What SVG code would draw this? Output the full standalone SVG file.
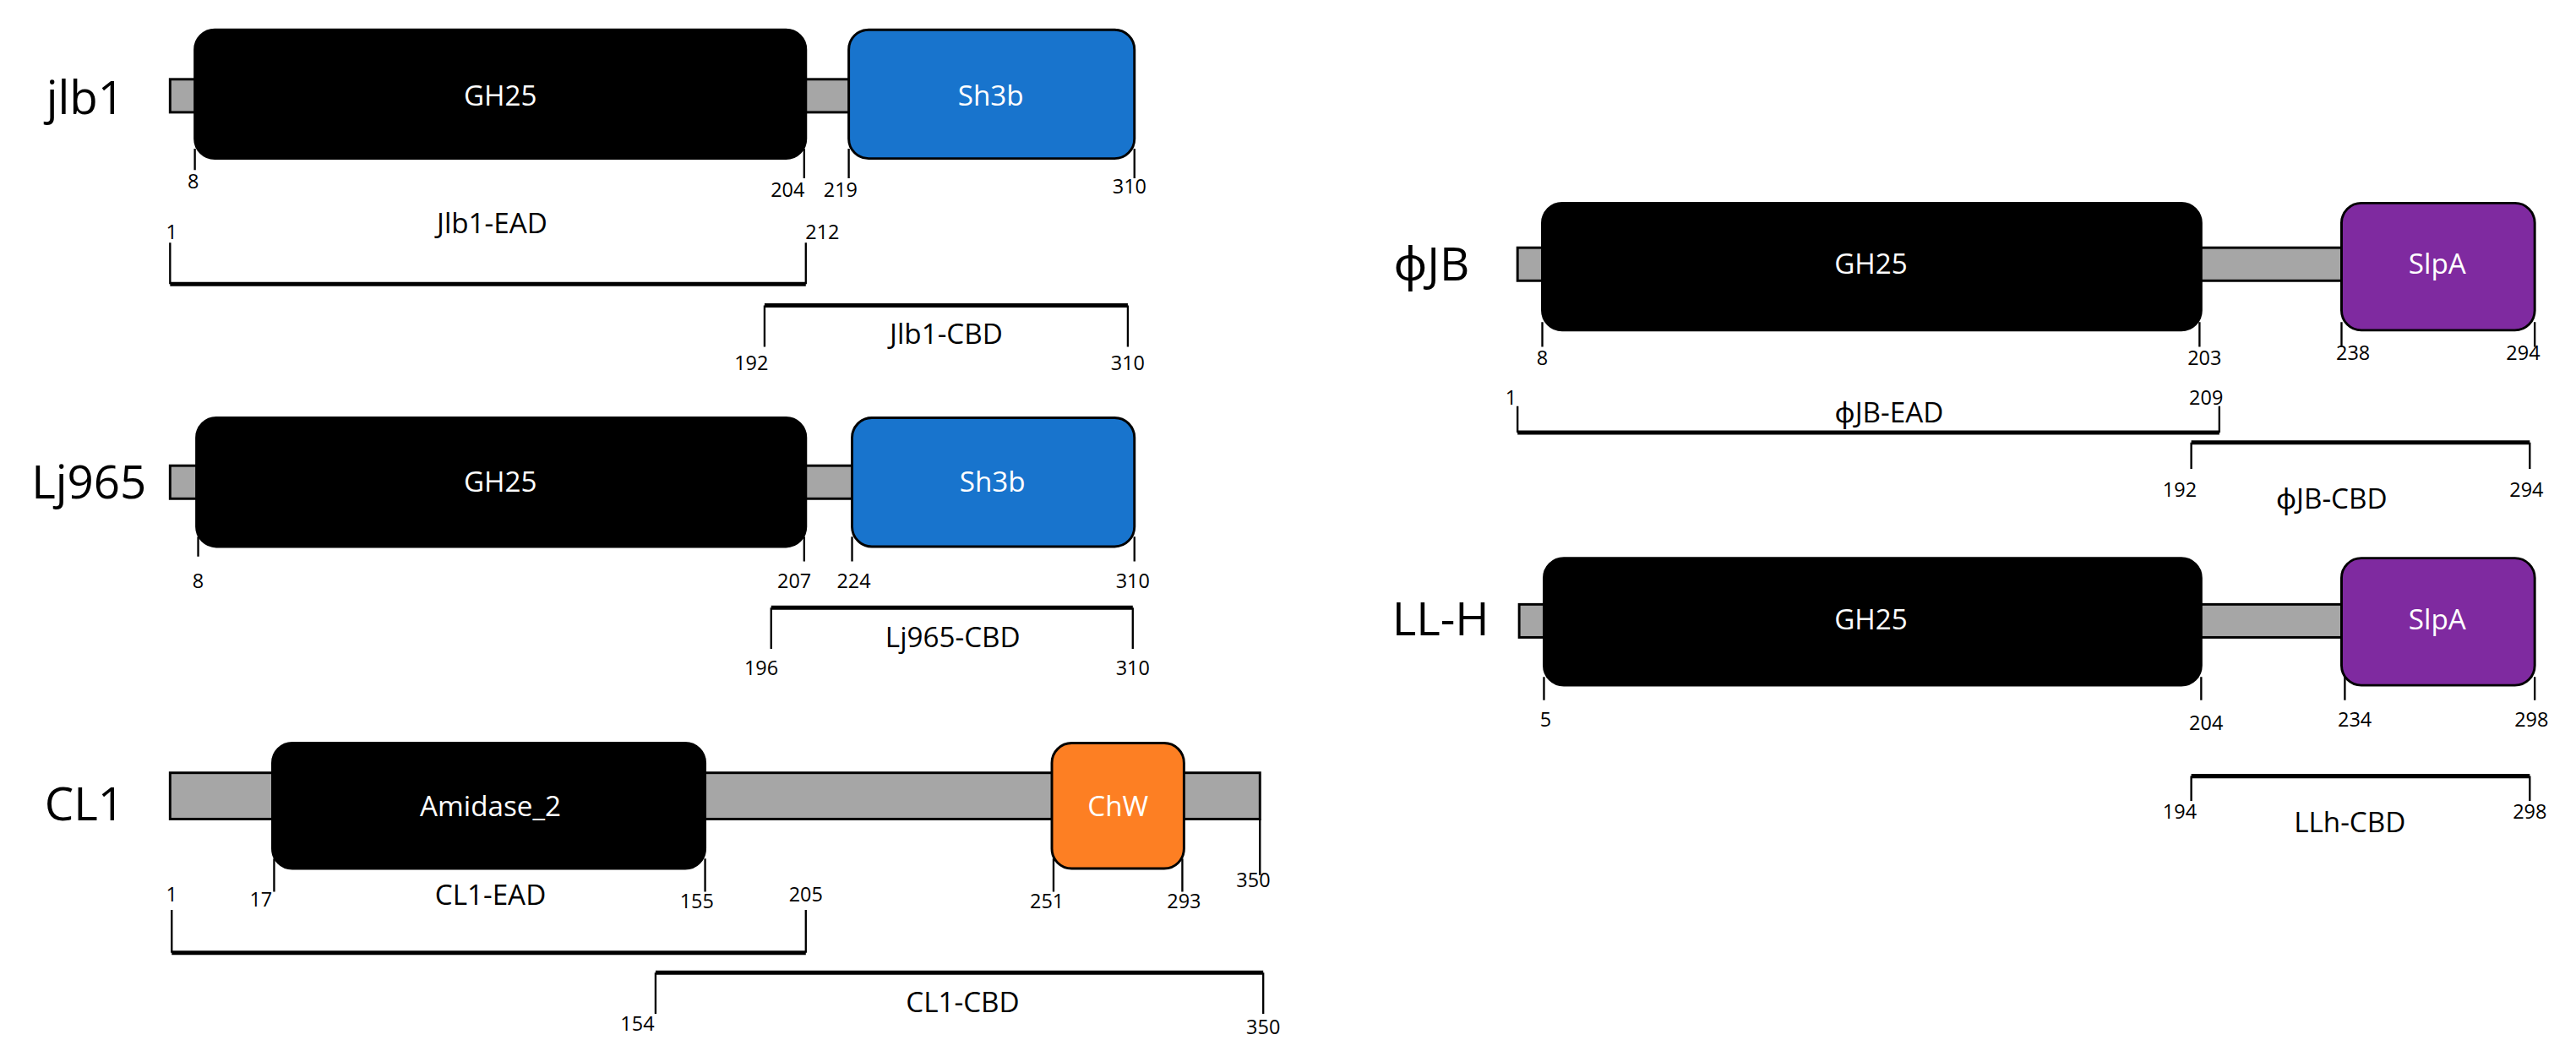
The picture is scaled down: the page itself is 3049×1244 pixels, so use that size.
<svg xmlns="http://www.w3.org/2000/svg" width="3049" height="1244" viewBox="0 0 3049 1244">
<style>
text{font-family:"Open Sans","Noto Sans",sans-serif;fill:#000}
.sp{font-size:28px}
.dom{font-size:17px;fill:#fff;text-anchor:middle}
.n{font-size:12px;text-anchor:middle}
.bn{font-size:17px;text-anchor:middle}
.bar{fill:#a6a6a6;stroke:#000;stroke-width:1.5}
.blk{fill:#000;stroke:#000;stroke-width:1.5}
.tk{stroke:#000;stroke-width:1.2;fill:none}
.br{stroke:#000;stroke-width:1.2;fill:none}
.bh{stroke:#000;stroke-width:2.6}
</style>
<rect width="3049" height="1244" fill="#fff"/>
<g transform="scale(1.9545)">
<g id="jlb1">
<text class="sp" x="28" y="69">jlb1</text>
<rect class="bar" x="103" y="48" width="415" height="20"/>
<rect class="blk" x="118" y="18" width="370" height="78" rx="12"/>
<text class="dom" x="303" y="64">GH25</text>
<rect x="514" y="18" width="173" height="78" rx="12" fill="#1874cd" stroke="#000" stroke-width="1.5"/>
<text class="dom" x="600" y="64">Sh3b</text>
<path class="tk" d="M118 90V103M487 90V108M514 90V108M687 90V108"/>
<text class="n" x="117" y="114">8</text><text class="n" x="477" y="119">204</text><text class="n" x="509" y="119">219</text><text class="n" x="684" y="117">310</text>
</g>
<g id="jlb1-ead">
<text class="bn" x="298" y="141">Jlb1-EAD</text>
<path class="br" d="M103 147V172M488 147V172"/><path class="bh" d="M103 172H488"/>
<text class="n" x="104" y="145">1</text><text class="n" x="498" y="145">212</text>
</g>
<g id="jlb1-cbd">
<path class="bh" d="M463 185H683"/><path class="br" d="M463 185V210M683 185V210"/>
<text class="bn" x="573" y="208">Jlb1-CBD</text>
<text class="n" x="455" y="224">192</text><text class="n" x="683" y="224">310</text>
</g>
<g id="lj965">
<text class="sp" x="19" y="302">Lj965</text>
<rect class="bar" x="103" y="282" width="415" height="20"/>
<rect class="blk" x="119" y="253" width="369" height="78" rx="12"/>
<text class="dom" x="303" y="298">GH25</text>
<rect x="516" y="253" width="171" height="78" rx="12" fill="#1874cd" stroke="#000" stroke-width="1.5"/>
<text class="dom" x="601" y="298">Sh3b</text>
<path class="tk" d="M120 325V337M487 325V340M516 325V340M687 325V340"/>
<text class="n" x="120" y="356">8</text><text class="n" x="481" y="356">207</text><text class="n" x="517" y="356">224</text><text class="n" x="686" y="356">310</text>
</g>
<g id="lj965-cbd">
<path class="bh" d="M467 368H686"/><path class="br" d="M467 368V393M686 368V393"/>
<text class="bn" x="577" y="392">Lj965-CBD</text>
<text class="n" x="461" y="409">196</text><text class="n" x="686" y="409">310</text>
</g>
<g id="cl1">
<text class="sp" x="27" y="497">CL1</text>
<rect class="bar" x="103" y="468" width="660" height="28"/>
<rect class="blk" x="165" y="450" width="262" height="76" rx="12"/>
<text class="dom" x="297" y="494">Amidase_2</text>
<rect x="637" y="450" width="80" height="76" rx="12" fill="#fd7f23" stroke="#000" stroke-width="1.5"/>
<text class="dom" x="677" y="494">ChW</text>
<path class="tk" d="M166 520V540M427 520V540M638 520V540M716 520V540M763 496V530"/>
<text class="n" x="158" y="549">17</text><text class="n" x="422" y="550">155</text><text class="n" x="634" y="550">251</text><text class="n" x="717" y="550">293</text><text class="n" x="759" y="537">350</text>
</g>
<g id="cl1-ead">
<text class="bn" x="297" y="548">CL1-EAD</text>
<path class="br" d="M104 551V577M488 551V577"/><path class="bh" d="M104 577H488"/>
<text class="n" x="104" y="546">1</text><text class="n" x="488" y="546">205</text>
</g>
<g id="cl1-cbd">
<path class="bh" d="M397 589H765"/><path class="br" d="M397 589V614M765 589V614"/>
<text class="bn" x="583" y="613">CL1-CBD</text>
<text class="n" x="386" y="624">154</text><text class="n" x="765" y="626">350</text>
</g>
<g id="phijb">
<text class="sp" x="844" y="170">ϕJB</text>
<rect class="bar" x="919" y="150" width="500" height="20"/>
<rect class="blk" x="934" y="123" width="399" height="77" rx="12"/>
<text class="dom" x="1133" y="166">GH25</text>
<rect x="1418" y="123" width="117" height="77" rx="12" fill="#7f2aa0" stroke="#000" stroke-width="1.5"/>
<text class="dom" x="1476" y="166">SlpA</text>
<path class="tk" d="M934 195V210M1332 195V210M1418 195V210M1535 195V210"/>
<text class="n" x="934" y="221">8</text><text class="n" x="1335" y="221">203</text><text class="n" x="1425" y="218">238</text><text class="n" x="1528" y="218">294</text>
</g>
<g id="phijb-ead">
<text class="bn" x="1144" y="256">ϕJB-EAD</text>
<path class="br" d="M919 246V262M1344 246V262"/><path class="bh" d="M919 262H1344"/>
<text class="n" x="915" y="245">1</text><text class="n" x="1336" y="245">209</text>
</g>
<g id="phijb-cbd">
<path class="bh" d="M1327 268H1532"/><path class="br" d="M1327 268V284M1532 268V284"/>
<text class="bn" x="1412" y="308">ϕJB-CBD</text>
<text class="n" x="1320" y="301">192</text><text class="n" x="1530" y="301">294</text>
</g>
<g id="llh">
<text class="sp" x="843" y="385">LL-H</text>
<rect class="bar" x="920" y="366" width="500" height="20"/>
<rect class="blk" x="935" y="338" width="398" height="77" rx="12"/>
<text class="dom" x="1133" y="381">GH25</text>
<rect x="1418" y="338" width="117" height="77" rx="12" fill="#7f2aa0" stroke="#000" stroke-width="1.5"/>
<text class="dom" x="1476" y="381">SlpA</text>
<path class="tk" d="M935 410V424M1333 410V424M1420 410V424M1535 410V424"/>
<text class="n" x="936" y="440">5</text><text class="n" x="1336" y="442">204</text><text class="n" x="1426" y="440">234</text><text class="n" x="1533" y="440">298</text>
</g>
<g id="llh-cbd">
<path class="bh" d="M1327 470H1532"/><path class="br" d="M1327 470V485M1532 470V485"/>
<text class="bn" x="1423" y="504">LLh-CBD</text>
<text class="n" x="1320" y="496">194</text><text class="n" x="1532" y="496">298</text>
</g>
</g>
</svg>
